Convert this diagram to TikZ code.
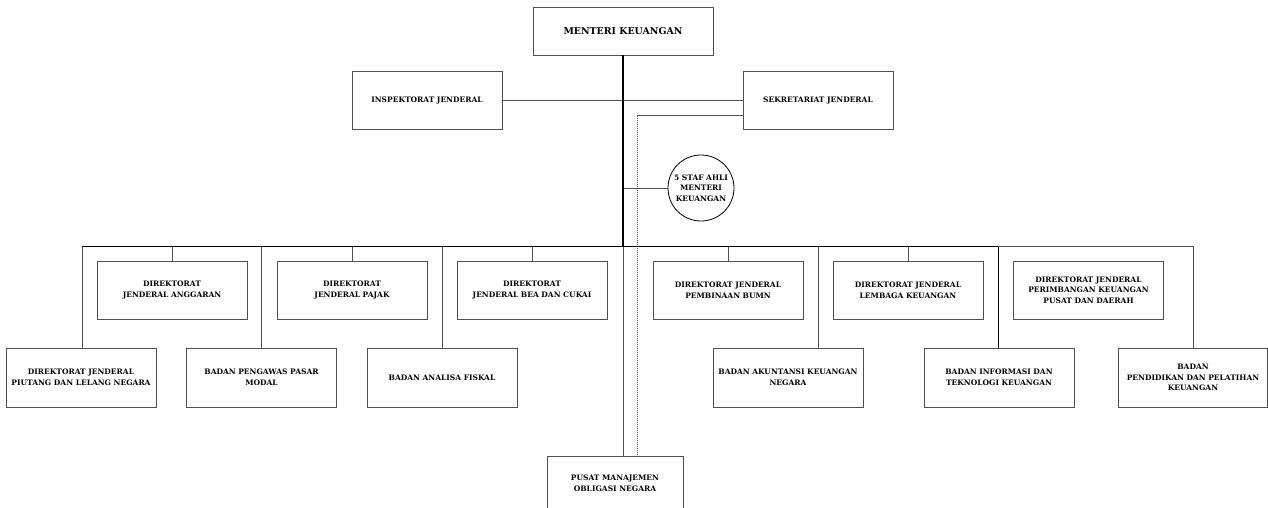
\documentclass[tikz,border=0pt]{standalone}
\usepackage{fontspec}
\setmainfont{DejaVu Serif}
\definecolor{linegray}{RGB}{80,80,80}
\begin{document}
\begin{tikzpicture}[x=1pt,y=-1pt,
  box/.style={draw=linegray, line width=0.8pt, fill=white, rectangle, inner sep=2pt,
    align=center, text=black, font=\bfseries\fontsize{7.5}{10.7}\selectfont,
    minimum width=150pt, minimum height=58pt},
  conn/.style={draw=linegray, line width=0.8pt},
  blk/.style={draw=black, line width=1pt},
  mainline/.style={draw=black, line width=1.8pt},
  dashline/.style={draw=linegray, line width=0.7pt, dash pattern=on 1.2pt off 0.8pt}
]
\useasboundingbox (0,0) rectangle (1268,508);
\clip (0,0) rectangle (1268,508);

% top
\node[box, minimum width=180pt, minimum height=48pt, font=\bfseries\fontsize{9.4}{11}\selectfont] (mk) at (623,31) {MENTERI KEUANGAN};
\node[box] (ij) at (427,100) {INSPEKTORAT JENDERAL};
\node[box] (sj) at (818,100) {SEKRETARIAT JENDERAL};
\node[circle, draw=black, line width=0.8pt, minimum size=66pt, inner sep=0pt, align=center,
  font=\bfseries\fontsize{7.5}{10.5}\selectfont] (staf) at (701,188) {5 STAF AHLI\\MENTERI\\KEUANGAN};

% row 1
\node[box] (ang) at (172,290) {DIREKTORAT\\JENDERAL ANGGARAN};
\node[box] (pjk) at (352,290) {DIREKTORAT\\JENDERAL PAJAK};
\node[box] (bc)  at (532,290) {DIREKTORAT\\JENDERAL BEA DAN CUKAI};
\node[box] (bumn) at (728,290) {DIREKTORAT JENDERAL\\PEMBINAAN BUMN};
\node[box] (lk)  at (908,290) {DIREKTORAT JENDERAL\\LEMBAGA KEUANGAN};
\node[box] (pk)  at (1088.5,290) {DIREKTORAT JENDERAL\\PERIMBANGAN KEUANGAN\\PUSAT DAN DAERAH};

% row 2
\node[box, minimum height=59pt] (piu) at (81,377.5) {DIREKTORAT JENDERAL\\PIUTANG DAN LELANG NEGARA};
\node[box, minimum height=59pt] (bpm) at (261.5,377.5) {BADAN PENGAWAS PASAR\\MODAL};
\node[box, minimum height=59pt] (baf) at (442,377.5) {BADAN ANALISA FISKAL};
\node[box, minimum height=59pt] (bak) at (788,377.5) {BADAN AKUNTANSI KEUANGAN\\NEGARA};
\node[box, minimum height=59pt] (bit) at (999,377.5) {BADAN INFORMASI DAN\\TEKNOLOGI KEUANGAN};
\node[box, minimum height=59pt, minimum width=149pt] (bpp) at (1193,377.5) {BADAN\\PENDIDIKAN DAN PELATIHAN\\KEUANGAN};

% bottom
\node[box, minimum width=136pt, minimum height=54pt] (pmo) at (615,483) {PUSAT MANAJEMEN\\OBLIGASI NEGARA};

% coordinates
\coordinate (busL) at (82,246);
\coordinate (busM) at (623,246);
\coordinate (busI) at (998,246);
\coordinate (busR) at (1193.5,246);
\coordinate (busA) at (818,246);
\coordinate (sa) at (623,188);
\coordinate (dx) at (637.5,115);

% connectors
\draw[conn] (ij.east) -- (sj.west);
\draw[conn] (sa) -- (staf.west);
\draw[dashline] ([yshift=-15pt]sj.west) -- (dx) -- (dx |- pmo.north);
\draw[conn] (busM) -- (busM |- pmo.north);

\foreach \n in {ang,pjk,bc,bumn,lk}{
  \draw[conn] (\n.north |- busL) -- (\n.north);
}
\draw[conn] (busL) -- (busL |- piu.north);
\draw[conn] (bpm.north |- busL) -- (bpm.north);
\draw[conn] (baf.north |- busL) -- (baf.north);
\draw[conn] (busA) -- (busA |- bak.north);
\draw[blk] (busI) -- (busI |- bit.north);
\draw[conn] (busR) -- (busR |- bpp.north);
\draw[conn] (busI) -- (busR);
\draw[blk] (busL) -- (busI);
\draw[mainline] (mk.south) -- (busM);
\end{tikzpicture}
\end{document}
